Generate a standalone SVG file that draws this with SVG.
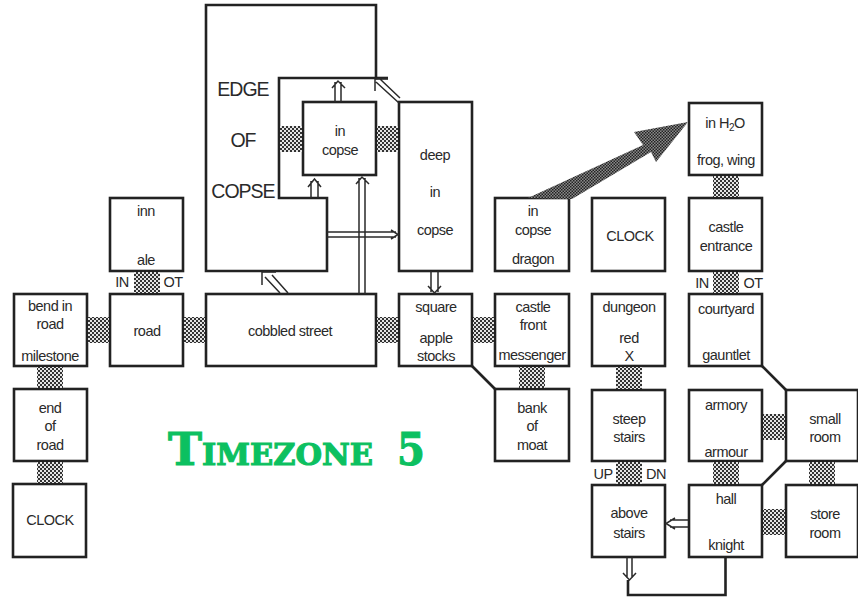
<svg xmlns="http://www.w3.org/2000/svg" width="858" height="597" viewBox="0 0 858 597">
<style>
.b{fill:#fff;stroke:#222;stroke-width:2.6}
.t{font-family:"Liberation Sans",Arial,sans-serif;font-size:14.500px;letter-spacing:-.5px;fill:#2a2a2a;text-anchor:middle}
.l{font-size:19.500px;letter-spacing:-1px}
.h{fill:url(#dots);stroke:none}
.a{fill:none;stroke:#2a2a2a;stroke-width:1.500}
.w{fill:none;stroke:#222;stroke-width:2.6}
.title{font-family:"DejaVu Serif","Liberation Serif",serif;font-weight:bold;fill:#0cc060;stroke:#0cc060;stroke-width:1.1}
</style>
<defs>
<pattern id="dots" width="4" height="4" patternUnits="userSpaceOnUse">
<rect width="4" height="4" fill="#e4e4e4"/><rect width="2" height="2" fill="#333"/><rect x="2" y="2" width="2" height="2" fill="#333"/>
</pattern>
<pattern id="dark" width="3" height="3" patternUnits="userSpaceOnUse">
<rect width="3" height="3" fill="#8a8a8a"/><rect width="1.5" height="1.5" fill="#222"/><rect x="1.5" y="1.5" width="1.5" height="1.5" fill="#222"/>
</pattern>
</defs>
<rect width="858" height="597" fill="#fff"/>
<g id="edge"><path class="b" d="M206 5H376V78H279V198H327V271H206Z"/><text class="t l" x="243" y="96">EDGE</text><text class="t l" x="243" y="147">OF</text><text class="t l" x="243" y="198">COPSE</text></g>
<g id="incopse"><rect class="b" x="303" y="102" width="73" height="73"/><text class="t" x="340" y="136">in</text><text class="t" x="340" y="155">copse</text></g>
<g id="deep"><rect class="b" x="399" y="102" width="73" height="169"/><text class="t" x="435" y="160">deep</text><text class="t" x="435" y="197">in</text><text class="t" x="435" y="235">copse</text></g>
<g id="inn"><rect class="b" x="110" y="198" width="73" height="73"/><text class="t" x="146" y="216">inn</text><text class="t" x="146" y="265">ale</text></g>
<g id="bend"><rect class="b" x="14" y="294" width="73" height="72"/><text class="t" x="50" y="311">bend in</text><text class="t" x="50" y="329">road</text><text class="t" x="50" y="361">milestone</text></g>
<g id="road"><rect class="b" x="110" y="294" width="73" height="72"/><text class="t" x="147" y="336">road</text></g>
<g id="cobbled"><rect class="b" x="206" y="294" width="170" height="72"/><text class="t" x="290" y="336">cobbled street</text></g>
<g id="square"><rect class="b" x="399" y="294" width="73" height="72"/><text class="t" x="436" y="312">square</text><text class="t" x="436" y="343">apple</text><text class="t" x="436" y="361">stocks</text></g>
<g id="castlefront"><rect class="b" x="495" y="294" width="74" height="72"/><text class="t" x="533" y="312">castle</text><text class="t" x="533" y="330">front</text><text class="t" x="532" y="360">messenger</text></g>
<g id="moat"><rect class="b" x="495" y="389" width="74" height="72"/><text class="t" x="532" y="413">bank</text><text class="t" x="532" y="431">of</text><text class="t" x="532" y="450">moat</text></g>
<g id="endroad"><rect class="b" x="14" y="389" width="73" height="72"/><text class="t" x="50" y="413">end</text><text class="t" x="50" y="431">of</text><text class="t" x="50" y="450">road</text></g>
<g id="clock1"><rect class="b" x="13" y="484" width="73" height="73"/><text class="t" x="50" y="525">CLOCK</text></g>
<g id="dragon"><rect class="b" x="495" y="198" width="74" height="73"/><text class="t" x="533" y="216">in</text><text class="t" x="533" y="235">copse</text><text class="t" x="533" y="264">dragon</text></g>
<g id="clock2"><rect class="b" x="592" y="198" width="73" height="73"/><text class="t" x="630" y="241">CLOCK</text></g>
<g id="entrance"><rect class="b" x="689" y="198" width="73" height="73"/><text class="t" x="726" y="232">castle</text><text class="t" x="726" y="251">entrance</text></g>
<g id="water"><rect class="b" x="689" y="103" width="73" height="72"/><text class="t" x="725" y="128">in H<tspan font-size="10" dy="3">2</tspan><tspan dy="-3">O</tspan></text><text class="t" x="726" y="165">frog, wing</text></g>
<g id="dungeon"><rect class="b" x="592" y="294" width="73" height="72"/><text class="t" x="629" y="312">dungeon</text><text class="t" x="629" y="343">red</text><text class="t" x="629" y="361">X</text></g>
<g id="courtyard"><rect class="b" x="689" y="294" width="73" height="72"/><text class="t" x="726" y="314">courtyard</text><text class="t" x="726" y="360">gauntlet</text></g>
<g id="steep"><rect class="b" x="592" y="390" width="73" height="71"/><text class="t" x="629" y="424">steep</text><text class="t" x="629" y="442">stairs</text></g>
<g id="armory"><rect class="b" x="689" y="390" width="73" height="71"/><text class="t" x="726" y="410">armory</text><text class="t" x="726" y="457">armour</text></g>
<g id="small"><rect class="b" x="786" y="390" width="72" height="71"/><text class="t" x="825" y="424">small</text><text class="t" x="825" y="442">room</text></g>
<g id="above"><rect class="b" x="592" y="485" width="73" height="72"/><text class="t" x="629" y="518">above</text><text class="t" x="629" y="538">stairs</text></g>
<g id="hall"><rect class="b" x="689" y="485" width="73" height="72"/><text class="t" x="726" y="504">hall</text><text class="t" x="726" y="550">knight</text></g>
<g id="store"><rect class="b" x="786" y="485" width="72" height="72"/><text class="t" x="825" y="519">store</text><text class="t" x="825" y="538">room</text></g>
<g id="connectors">
<rect class="h" x="88" y="317" width="21" height="26"/>
<rect class="h" x="184" y="317" width="21" height="26"/>
<rect class="h" x="377" y="317" width="21" height="26"/>
<rect class="h" x="473" y="317" width="21" height="26"/>
<rect class="h" x="134" y="272" width="26" height="21"/>
<rect class="h" x="37" y="367" width="26" height="21"/>
<rect class="h" x="37" y="462" width="26" height="21"/>
<rect class="h" x="519" y="367" width="26" height="21"/>
<rect class="h" x="280" y="126" width="22" height="26"/>
<rect class="h" x="377" y="126" width="21" height="26"/>
<rect class="h" x="713" y="176" width="26" height="21"/>
<rect class="h" x="713" y="272" width="26" height="21"/>
<rect class="h" x="616" y="367" width="26" height="22"/>
<rect class="h" x="616" y="462" width="26" height="22"/>
<rect class="h" x="713" y="462" width="26" height="22"/>
<rect class="h" x="763" y="414" width="22" height="26"/>
<rect class="h" x="763" y="509" width="22" height="26"/>
<rect class="h" x="809" y="462" width="26" height="22"/>
<path d="M528 198L643 145L634 132L688 122L656 162L651 152L572 199Z" fill="url(#dark)"/>
<path class="w" d="M376 78H388"/>
<path class="w" d="M472 366L495 389"/>
<path class="w" d="M762 366L786 390"/>
<path class="w" d="M762 485L786 461"/>
<path class="w" d="M725.500 557V595H628V580"/>
<g class="a">
<path d="M335 102V82M341 102V82M332 88L338 81L345 88"/>
<path d="M311 198V181M318 198V181M308 187L314.500 179L321 187"/>
<path d="M359 294V178M365 294V178M356 184L362 177L369 184"/>
<path d="M327 232H396M327 237H396M391 230L398 234.500L391 239"/>
<path d="M431 271V292M438 271V292M428 286L434.500 293L441 286"/>
<path d="M399 103L376 82M400 98L380 79M375 91V79H388"/>
<path d="M280 293L265 277M288 293L272 275M262 285V272H276"/>
<path d="M688 520H670M688 527H670M675 518L666 523.500L675 529"/>
<path d="M627 557V578M632 557V578M623 573L629.500 580L636 573"/>
</g>
</g>
<g id="labels">
<text class="t" x="122" y="287">IN</text><text class="t" x="173" y="287">OT</text>
<text class="t" x="702" y="288">IN</text><text class="t" x="753" y="288">OT</text>
<text class="t" x="603" y="479">UP</text><text class="t" x="656" y="479">DN</text>
<text class="title" x="168" y="465" font-size="44" textLength="34" lengthAdjust="spacingAndGlyphs">T</text>
<text class="title" x="202" y="465" font-size="29" textLength="171" lengthAdjust="spacingAndGlyphs">IMEZONE</text>
<text class="title" x="397" y="465" font-size="44" textLength="28" lengthAdjust="spacingAndGlyphs">5</text>
</g>
</svg>
